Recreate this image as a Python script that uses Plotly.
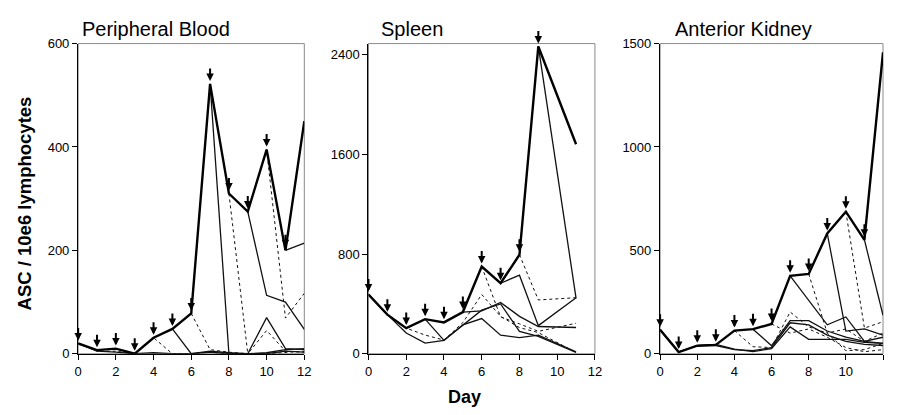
import plotly.graph_objects as go

# ---------------- data ----------------
DAYS = list(range(13))
DAYS_SP = [0, 1, 2, 3, 4, 5, 6, 7, 8, 9, 11]

# Peripheral Blood
PB_ENVELOPE = [20, 7, 10, 0, 31, 48, 78, 522, 310, 275, 395, 200, 450]
PB_ARROW_DAYS = [0, 1, 2, 3, 4, 5, 6, 7, 8, 9, 10, 11]
PB_LINES = [
    ("solid", DAYS, [20, 5, 3, 0, 2, 0, 0, 5, 2, 0, 70, 10, 8]),
    ("dot", DAYS, [20, 5, 5, 0, 31, 0, 0, 3, 0, 0, 45, 5, 3]),
    ("solid", [5, 6, 7, 8, 9, 10, 11, 12], [48, 0, 3, 0, 0, 0, 5, 3]),
    ("dot", [6, 7, 8, 9], [78, 8, 3, 0]),
    ("solid", [7, 8, 9, 10, 11, 12], [522, 0, 0, 2, 8, 10]),
    ("dot", [8, 9, 10, 11, 12], [310, 0, 0, 2, 5]),
    ("solid", [9, 10, 11, 12], [275, 113, 100, 47]),
    ("dot", [10, 11, 12], [395, 69, 117]),
    ("solid", [11, 12], [200, 214]),
]

# Spleen
SP_ENVELOPE = [476, 314, 206, 278, 252, 335, 700, 566, 795, 2467, 1682]
SP_ARROW_DAYS = [0, 1, 2, 3, 4, 5, 6, 7, 8, 9]
SP_LINES = [
    ("solid", DAYS_SP, [476, 314, 167, 85, 108, 232, 283, 149, 129, 149, 15]),
    ("solid", [3, 4], [278, 108]),
    ("dot", DAYS_SP, [476, 314, 206, 150, 110, 250, 476, 300, 210, 170, 10]),
    ("dot", [6, 7, 8, 9, 11], [700, 296, 240, 180, 245]),
    ("dot", [8, 9, 11], [795, 432, 450]),
    ("solid", [7, 8, 9, 11], [566, 631, 226, 450]),
    ("solid", [9, 11], [2467, 445]),
    ("solid", [5, 6, 7, 8, 9, 11], [335, 345, 412, 300, 219, 211]),
    ("solid", [4, 5, 6, 7, 8, 9, 11], [108, 230, 350, 400, 180, 140, 10]),
]

# Anterior Kidney
AK_ENVELOPE = [116, 8, 39, 43, 112, 119, 144, 377, 386, 582, 687, 551, 1458]
AK_ARROW_DAYS = [0, 1, 2, 3, 4, 5, 6, 7, 8, 9, 10, 11]
AK_LINES = [
    ("solid", DAYS, [116, 8, 39, 40, 20, 15, 30, 150, 140, 90, 60, 45, 40]),
    ("solid", DAYS, [116, 8, 39, 45, 22, 10, 25, 130, 70, 70, 70, 55, 50]),
    ("dot", [4, 5, 6, 7, 8, 9, 10, 11, 12], [112, 34, 30, 202, 130, 100, 15, 20, 50]),
    ("solid", [5, 6, 7, 8, 9, 10, 11, 12], [119, 39, 160, 160, 110, 80, 60, 80]),
    ("dot", [6, 7, 8, 9, 10, 11, 12], [144, 100, 120, 80, 30, 10, 20]),
    ("solid", [7, 8, 9, 10, 11, 12], [377, 260, 140, 178, 60, 50]),
    ("dot", [8, 9, 10, 11, 12], [386, 100, 120, 60, 100]),
    ("solid", [9, 10, 11, 12], [582, 110, 120, 90]),
    ("dot", [10, 11, 12], [687, 124, 155]),
    ("solid", [11, 12], [551, 186]),
]

TITLES = ["Peripheral Blood", "Spleen", "Anterior Kidney"]
Y_RANGES = [[0, 600], [0, 2490], [0, 1500]]
Y_TICKS = [[0, 200, 400, 600], [0, 800, 1600, 2400], [0, 500, 1000, 1500]]
X_TICKS = [0, 2, 4, 6, 8, 10, 12]

# ---------------- figure ----------------
# the page body keeps its default 8px margin, so the figure is sized to fit the window
OX, OY = 8, 8
WF, HF = 898 - 2 * OX, 415 - 2 * OY


def px(x):
    return min(max((x - OX) / WF, 0), 1)


def py(y):
    return min(max(1 - (y - OY) / HF, 0), 1)


X_DOM = [[px(75), px(304)], [px(369), px(598.3)], [px(664.3), px(894.3)]]
Y_DOM = [py(360), py(37.7)]
TITLE_X = [77, 380, 677]

panels = [
    (PB_ENVELOPE, DAYS, PB_ARROW_DAYS, PB_LINES),
    (SP_ENVELOPE, DAYS_SP, SP_ARROW_DAYS, SP_LINES),
    (AK_ENVELOPE, DAYS, AK_ARROW_DAYS, AK_LINES),
]

fig = go.Figure()
annotations = []
shapes = []
font_family = "Liberation Sans, Arial, sans-serif"

for i, (env, env_days, arrow_days, lines) in enumerate(panels):
    xa = "x" if i == 0 else f"x{i+1}"
    ya = "y" if i == 0 else f"y{i+1}"
    for dash, xs, ys in lines:
        fig.add_trace(go.Scatter(
            x=xs, y=ys, mode="lines", xaxis=xa, yaxis=ya,
            line=dict(color="#111111", width=1.0 if dash == "dot" else 1.3,
                      dash=dash),
            showlegend=False, hoverinfo="skip", cliponaxis=False))
    fig.add_trace(go.Scatter(
        x=env_days, y=env, mode="lines", xaxis=xa, yaxis=ya,
        line=dict(color="#000000", width=2.4),
        showlegend=False, hoverinfo="skip", cliponaxis=False))
    for d in arrow_days:
        yv = env[env_days.index(d)]
        annotations.append(dict(
            x=d, y=yv, xref=xa, yref=ya, ax=0, ay=-17, axref="pixel",
            showarrow=True, arrowhead=2, arrowsize=0.75, arrowwidth=2.0,
            arrowcolor="#000000", standoff=3, text=""))
    annotations.append(dict(
        x=px(TITLE_X[i]), y=py(23), xref="paper", yref="paper",
        xanchor="left", yanchor="middle", showarrow=False,
        text=TITLES[i], font=dict(size=20, color="#000", family=font_family)))
    shapes.append(dict(
        type="rect", xref=f"{xa} domain", yref=f"{ya} domain",
        x0=0, x1=1, y0=0, y1=1, line=dict(color="#8a8a8a", width=1),
        layer="below"))
    axis_common = dict(
        showgrid=False, zeroline=False, showline=True, linecolor="#000",
        linewidth=1.4, ticks="outside", ticklen=5, tickwidth=1.2,
        tickcolor="#000", tickfont=dict(size=13, color="#000", family=font_family))
    fig.update_layout(**{
        ("xaxis" if i == 0 else f"xaxis{i+1}"): dict(
            domain=X_DOM[i], range=[0, 12], tickvals=X_TICKS, anchor=ya,
            **axis_common),
        ("yaxis" if i == 0 else f"yaxis{i+1}"): dict(
            domain=Y_DOM, range=Y_RANGES[i], tickvals=Y_TICKS[i], anchor=xa,
            **axis_common),
    })

annotations.append(dict(
    x=px(21), y=py(204), xref="paper", yref="paper", textangle=-90,
    showarrow=False, xanchor="center", yanchor="middle",
    text="<b>ASC / 10e6 lymphocytes</b>",
    font=dict(size=18.5, color="#000", family=font_family)))
annotations.append(dict(
    x=px(466), y=py(405), xref="paper", yref="paper",
    showarrow=False, xanchor="center", yanchor="middle",
    text="<b>Day</b>", font=dict(size=18, color="#000", family=font_family)))

fig.update_layout(
    width=WF, height=HF, margin=dict(l=0, r=0, t=0, b=0),
    paper_bgcolor="white", plot_bgcolor="white",
    annotations=annotations, shapes=shapes,
    font=dict(family=font_family),
)

fig.write_html("out.html")
